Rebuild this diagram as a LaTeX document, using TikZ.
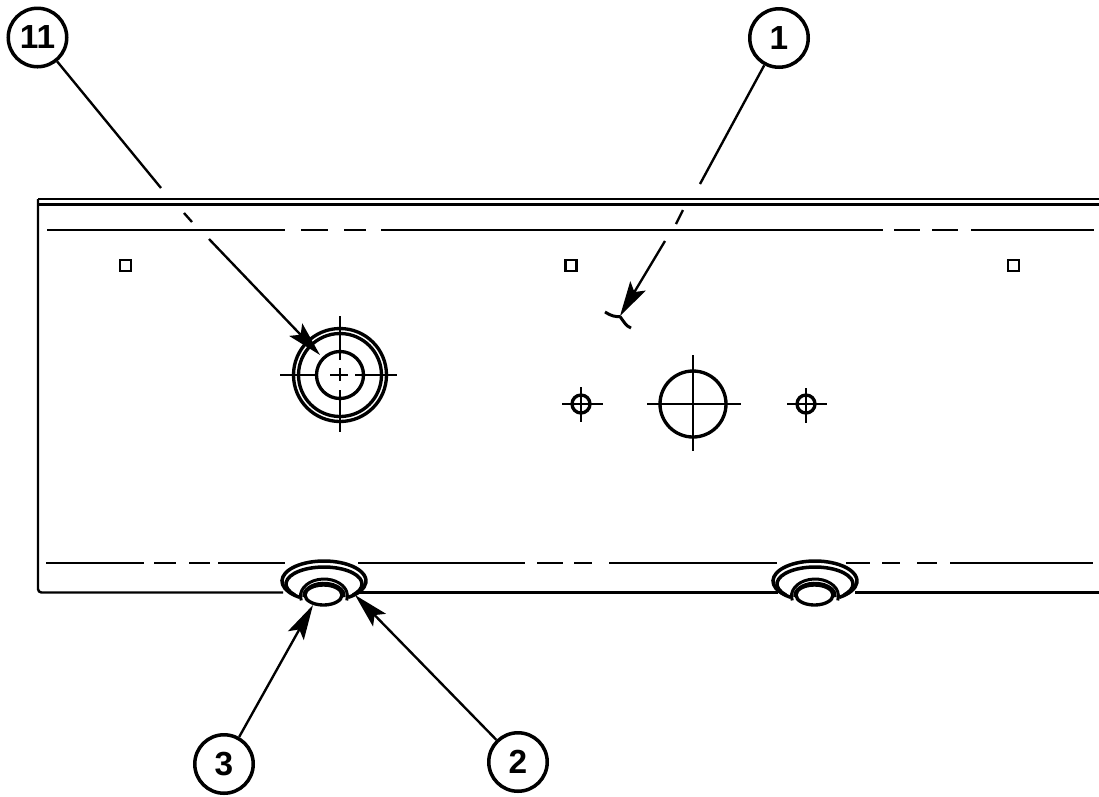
\documentclass[tikz,border=0pt]{standalone}
\usepackage{fontspec}
\setmainfont{Liberation Sans}
\usetikzlibrary{arrows.meta}
\tikzset{
  callout/.style={draw,circle,line width=2pt,minimum size=1.17cm,inner sep=0pt,font=\fontsize{19}{22}\selectfont\bfseries},
  leader/.style={line width=1.35pt},
  barbed/.style={leader,-{Stealth[length=0.7cm,width=0.36cm,inset=0.14cm]}},
  edge/.style={line width=1.4pt},
  center/.style={line width=1.5pt},
  hole/.style={line width=1.9pt},
}
\begin{document}
\begin{tikzpicture}[x=0.02cm,y=-0.02cm]
        \useasboundingbox (0,0) rectangle (1099,796);
        % panel outline
        \draw[line width=1.1pt] (38,199)--(1099,199);
        \draw[line width=1.5pt] (38,204.5)--(1099,204.5);
        \draw[edge,rounded corners=2pt] (38,199)--(38,592.5)--(283,592.5);
        \draw[edge] (358,592.5)--(778,592.5);
        \draw[edge] (855,592.5)--(1099,592.5);
        % bend lines
        \foreach \a/\b in {47/285,301/328,344/366,381/883,894/920,932/958,971/1094}
                \draw[edge] (\a,230)--(\b,230);
        \foreach \a/\b in {46/144,154/176,189/210,218/285,358/525,537/563,574/592,609/777,846/870,882/900,917/937,950/1093}
                \draw[edge] (\a,563)--(\b,563);
        % square holes
        \foreach \x in {125.5,571,1013.5}
                \draw[line width=1.5pt] (\x-5.5,260) rectangle (\x+5.5,271);
        % stud with its centre lines
        \coordinate (stud) at (340,375);
        \draw[hole] (stud) circle [radius=46.5];
        \draw[hole] (stud) circle [radius=41.5];
        \draw[hole] (stud) circle [radius=23.5];
        \draw[center] (280,375)--(316,375);
        \draw[center] (330,375)--(348,375);
        \draw[center] (355,375)--(397,375);
        \draw[center] (340,316)--(340,360);
        \draw[center] (340,368)--(340,381);
        \draw[center] (340,390)--(340,432);
        % round holes
        \coordinate (holeA) at (581,404);
        \coordinate (holeB) at (693,404);
        \coordinate (holeC) at (806,404);
        \draw[hole] (holeA) circle [radius=9];
        \draw[hole] (holeB) circle [radius=33];
        \draw[hole] (holeC) circle [radius=9];
        \draw[center] (562,404)--(603,404);
        \draw[center] (581,387)--(581,422);
        \draw[center] (647,404)--(741,404);
        \draw[center] (693,355)--(693,451);
        \draw[center] (787,404)--(827,404);
        \draw[center] (806,388)--(806,423);
        % small mark
        \draw[line width=1.7pt] (605,312) .. controls (611,316) and (616,317) .. (620,316.5);
        \draw[line width=1.7pt] (620,316.5) .. controls (624,322) and (626,326) .. (631,328);
        % rivets
        \foreach \x in {324,815}{
                \draw[line width=2pt] (\x,581) ++(125:42 and 20) arc[start angle=125,end angle=415,x radius=42,y radius=20];
                \draw[line width=2pt] (\x,584) ++(140:38 and 17) arc[start angle=140,end angle=400,x radius=38,y radius=17];
                \draw[line width=1.7pt] (\x,596) ++(165:23.5 and 17) arc[start angle=165,end angle=375,x radius=23.5,y radius=17];
                \draw[line width=1.5pt] (\x,596) ++(175:20.5 and 13) arc[start angle=175,end angle=365,x radius=20.5,y radius=13];
                \draw[line width=1.9pt,fill=white] (\x-0.5,595) ellipse [x radius=18.5,y radius=10];
        }
        % callouts
        \node[callout] (n11) at (37.5,37.5) {11};
        \node[callout] (n1) at (779,38) {1};
        \node[callout] (n3) at (224,764) {3};
        \node[callout] (n2) at (518,762) {2};
        \coordinate (a11) at (161,188);
        \coordinate (b11) at (184,213);
        \coordinate (c11) at (192,222);
        \coordinate (d11) at (209,239);
        \coordinate (e11) at (320,355);
        \coordinate (a1) at (700,184);
        \coordinate (b1) at (683,210);
        \coordinate (c1) at (676,224);
        \coordinate (d1) at (665,241);
        \coordinate (e1) at (620,316);
        \coordinate (e3) at (313,605);
        \coordinate (e2) at (355,595);
        \draw[leader] (n11)--(a11);
        \draw[leader] (b11)--(c11);
        \draw[barbed] (d11)--(e11);
        \draw[leader] (n1)--(a1);
        \draw[leader] (b1)--(c1);
        \draw[barbed] (d1)--(e1);
        \draw[barbed] (n3)--(e3);
        \draw[barbed] (n2)--(e2);
\end{tikzpicture}
\end{document}
